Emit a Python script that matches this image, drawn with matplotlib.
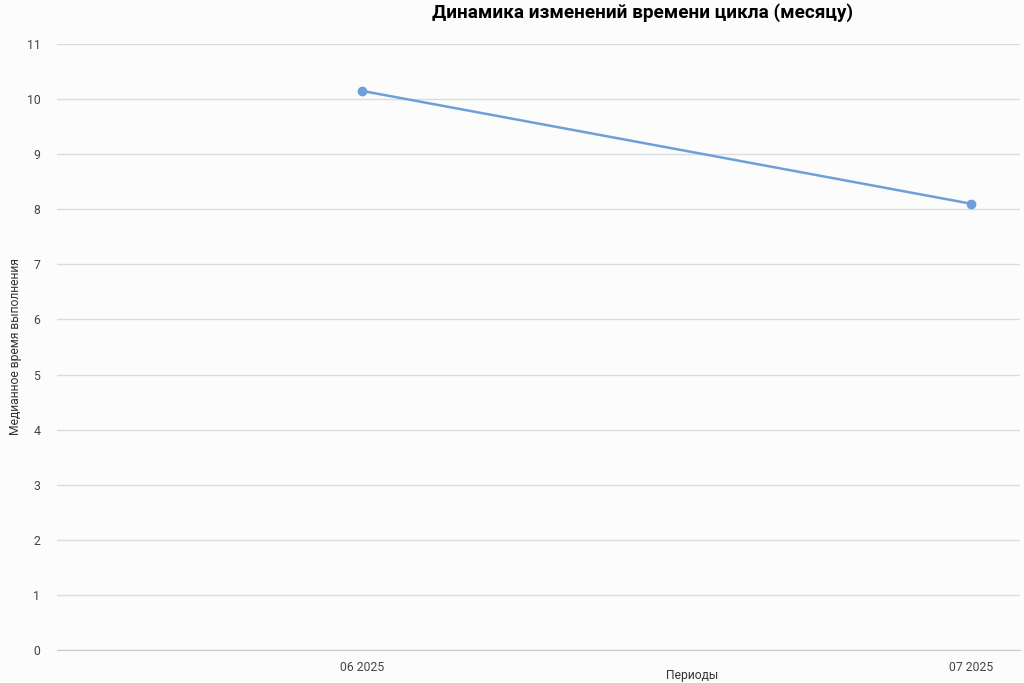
import matplotlib.pyplot as plt

periods = ['06 2025', '07 2025']
median_time = [10.15, 8.1]
yticks = list(range(0, 12))

plt.rcParams['font.family'] = ['Roboto', 'DejaVu Sans']

fig = plt.figure(figsize=(10.24, 6.83), dpi=100)
fig.patch.set_facecolor('#fcfcfd')
ax = fig.add_axes([57/1024, 33/683, (1020-57)/1024, (650-44)/683])
ax.set_facecolor('#fcfcfd')

xs = range(len(periods))
ax.plot(xs, median_time, color='#6f9fd8', linewidth=1.8, marker='o', markersize=6)

ax.set_xlim(-0.5, 1.08)
ax.set_ylim(0, 11)
ax.set_yticks(yticks)
ax.set_xticks(list(xs))
ax.set_xticklabels(periods)
ax.grid(axis='y', color='#dcdcdc', linewidth=1)
ax.set_axisbelow(True)
for s in ['top', 'right', 'left']:
    ax.spines[s].set_visible(False)
ax.spines['bottom'].set_color('#c8c8c8')
ax.tick_params(axis='both', length=0, labelsize=8.8, colors='#444444')
ax.tick_params(axis='y', pad=12)
ax.tick_params(axis='x', pad=8)

ax.set_ylabel('Медианное время выполнения', fontsize=8.7, color='#333333')
ax.yaxis.set_label_coords(-0.036, 0.50)
ax.set_xlabel('Периоды', fontsize=8.7, color='#333333')
ax.xaxis.set_label_coords(0.66, -0.031)

fig.suptitle('Динамика изменений времени цикла (месяцу)', x=0.627, y=0.995,
             fontsize=13.7, fontweight='bold', va='top')

plt.savefig('out.png', dpi=100, facecolor=fig.get_facecolor())
